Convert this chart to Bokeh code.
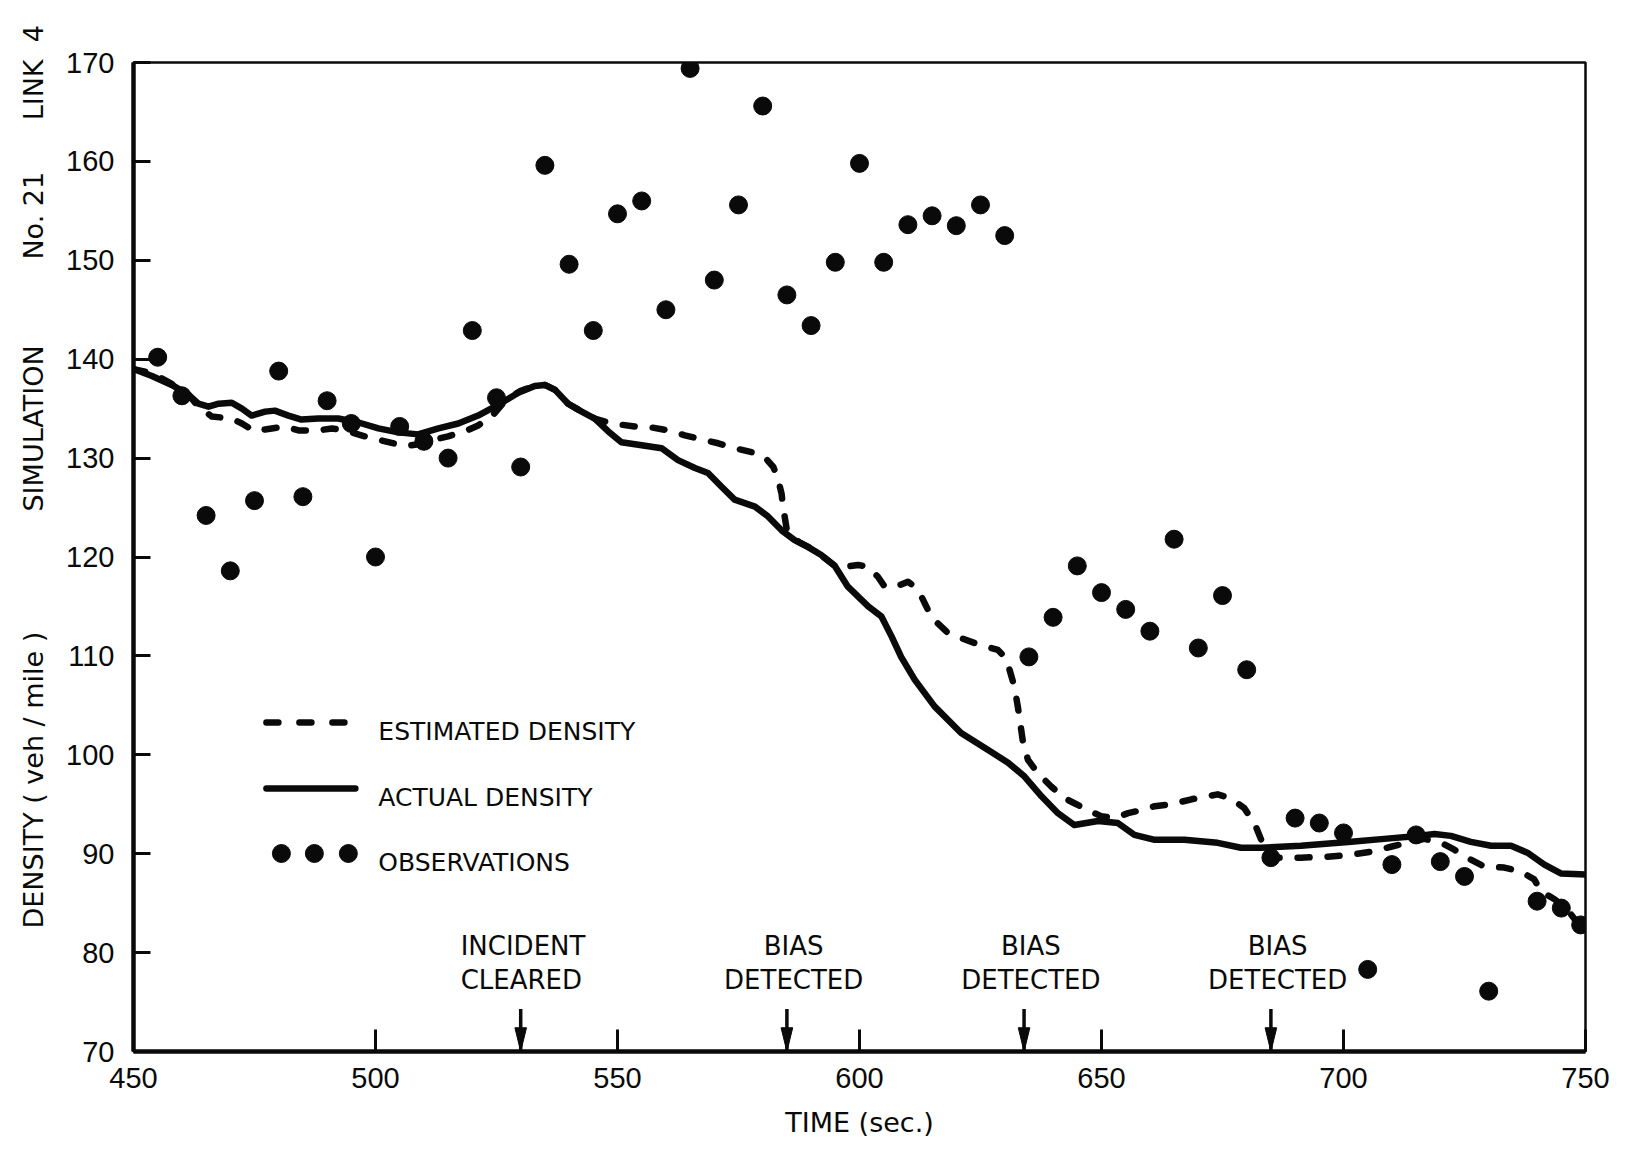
import math

from bokeh.embed import file_html
from bokeh.models import FixedTicker, Label, Range1d, Title
from bokeh.plotting import figure
from bokeh.resources import INLINE

# ---------------------------------------------------------------------------
# Data: simulation No. 21, link 4
# ---------------------------------------------------------------------------
actual_t = [450.0, 453.8, 457.9, 461.4, 463.4, 465.5, 467.6, 470.3, 472.4, 474.4,
            477.2, 479.2, 482.0, 484.7, 488.2, 492.3, 496.5, 500.6, 504.7, 508.8,
            513.0, 517.1, 521.2, 525.4, 529.5, 532.9, 535.0, 537.1, 539.8, 542.6,
            545.3, 548.1, 550.8, 555.0, 559.1, 562.5, 566.0, 568.7, 571.5, 574.2,
            578.4, 581.1, 583.9, 586.6, 589.4, 592.1, 594.9, 597.6, 601.8, 604.5,
            606.6, 608.6, 611.4, 615.5, 621.0, 626.5, 630.7, 634.1, 637.6, 641.0,
            644.4, 649.3, 653.4, 656.8, 661.0, 667.1, 674.0, 678.8, 683.0, 691.2,
            701.6, 708.4, 715.3, 718.8, 722.2, 726.3, 730.5, 734.6, 738.0, 741.5,
            744.9, 750.0]
actual_density = [139.0, 138.3, 137.4, 136.4, 135.5, 135.2, 135.5, 135.6, 135.0, 134.3,
                  134.7, 134.8, 134.3, 133.9, 134.0, 134.0, 133.6, 133.0, 132.6, 132.4,
                  133.0, 133.5, 134.3, 135.4, 136.6, 137.3, 137.4, 136.9, 135.5, 134.7,
                  134.0, 132.7, 131.6, 131.3, 131.0, 129.8, 129.0, 128.5, 127.1, 125.8,
                  125.1, 124.1, 122.7, 121.7, 121.0, 120.2, 119.1, 117.0, 115.0, 114.0,
                  112.0, 109.9, 107.6, 104.9, 102.2, 100.5, 99.2, 97.8, 95.8, 94.1,
                  92.9, 93.3, 93.1, 91.9, 91.4, 91.4, 91.1, 90.6, 90.6, 90.8,
                  91.2, 91.5, 91.8, 92.0, 91.8, 91.2, 90.8, 90.8, 90.1, 88.9,
                  88.0, 87.9]

estimated_t = [450.0, 453.8, 457.9, 461.4, 463.4, 466.2, 470.3, 472.4, 475.1, 477.2,
               481.3, 484.1, 488.2, 491.0, 493.7, 497.8, 502.0, 506.1, 508.8, 511.6,
               515.0, 518.5, 521.2, 524.0, 527.0, 530.0, 533.0, 535.0, 537.1, 539.8,
               542.6, 545.3, 548.8, 553.6, 557.0, 560.5, 563.9, 567.3, 570.8, 574.2,
               577.7, 580.4, 582.2, 583.2, 583.9, 584.2, 585.0, 587.5, 590.7, 594.9,
               596.9, 599.7, 601.8, 603.8, 605.2, 608.0, 610.0, 611.4, 612.8, 614.2,
               615.5, 618.3, 621.0, 623.8, 626.5, 628.6, 630.0, 631.0, 632.0, 632.7,
               633.3, 633.8, 634.8, 636.9, 639.6, 642.4, 644.4, 647.2, 649.9, 652.7,
               655.5, 658.2, 661.0, 664.4, 668.6, 674.0, 676.8, 679.5, 681.6, 683.0,
               684.0, 686.4, 691.2, 696.7, 701.6, 705.7, 709.8, 714.0, 716.7, 720.2,
               722.9, 726.3, 729.1, 733.2, 736.6, 739.4, 740.8, 743.6, 746.3, 749.0,
               750.0]
estimated_density = [139.0, 138.6, 137.5, 136.4, 135.2, 134.2, 134.0, 133.5, 132.7, 132.9,
                     133.2, 132.8, 132.8, 133.0, 132.8, 132.2, 131.7, 131.2, 131.4, 131.8,
                     132.2, 132.7, 133.3, 134.2, 135.9, 136.8, 137.3, 137.4, 136.9, 135.5,
                     134.7, 134.0, 133.5, 133.2, 133.1, 132.8, 132.3, 131.9, 131.5, 131.0,
                     130.6, 130.1, 129.1, 127.8, 126.4, 125.1, 122.7, 121.5, 120.7, 119.1,
                     119.0, 119.2, 119.0, 118.0, 117.0, 117.1, 117.5, 117.0, 116.0, 114.6,
                     113.6, 112.3, 111.8, 111.3, 110.9, 110.6, 109.9, 108.6, 106.9, 104.9,
                     102.9, 101.2, 99.5, 98.1, 96.8, 95.6, 95.1, 94.4, 93.8, 93.6,
                     94.1, 94.4, 94.8, 95.0, 95.5, 96.0, 95.6, 94.6, 93.1, 91.4,
                     89.9, 89.6, 89.6, 89.7, 89.9, 90.2, 90.7, 91.2, 91.5, 91.1,
                     90.4, 89.4, 88.7, 88.6, 88.2, 87.4, 86.2, 85.4, 84.3, 82.6,
                     82.3]

obs_t = [455, 460, 465, 470, 475, 480, 485, 490, 495, 500,
         505, 510, 515, 520, 525, 530, 535, 540, 545, 550,
         555, 560, 565, 570, 575, 580, 585, 590, 595, 600,
         605, 610, 615, 620, 625, 630, 635, 640, 645, 650,
         655, 660, 665, 670, 675, 680, 685, 690, 695, 700,
         705, 710, 715, 720, 725, 730, 740, 745, 749]
obs_density = [140.2, 136.3, 124.2, 118.6, 125.7, 138.8, 126.1, 135.8, 133.5, 120.0,
               133.2, 131.7, 130.0, 142.9, 136.1, 129.1, 159.6, 149.6, 142.9, 154.7,
               156.0, 145.0, 169.4, 148.0, 155.6, 165.6, 146.5, 143.4, 149.8, 159.8,
               149.8, 153.6, 154.5, 153.5, 155.6, 152.5, 109.9, 113.9, 119.1, 116.4,
               114.7, 112.5, 121.8, 110.8, 116.1, 108.6, 89.6, 93.6, 93.1, 92.1,
               78.3, 88.9, 91.9, 89.2, 87.7, 76.1, 85.2, 84.5, 82.8]

event_t = [530, 585, 634, 685]
event_top = ["INCIDENT", "BIAS", "BIAS", "BIAS"]
event_bottom = ["CLEARED", "DETECTED", "DETECTED", "DETECTED"]

x_ticks = [450, 500, 550, 600, 650, 700, 750]
y_ticks = [70, 80, 90, 100, 110, 120, 130, 140, 150, 160, 170]

# ---------------------------------------------------------------------------
# Layout helpers (canvas pixels -> data units) for the hand-placed annotations
# ---------------------------------------------------------------------------
W, H = 1626, 1152
LEFT, RIGHT, TOP, BOTTOM = 132, 41, 62, 101
X0, X1, Y0, Y1 = 450, 750, 70, 170
FRAME_W = W - LEFT - RIGHT
FRAME_H = H - TOP - BOTTOM


def px_x(px):
    return X0 + (px - LEFT) * (X1 - X0) / FRAME_W


def px_y(py):
    return Y1 - (py - TOP) * (Y1 - Y0) / FRAME_H


INK = "#0a0a0a"
TICK_FONT = "Liberation Sans"
TEXT_FONT = "DejaVu Sans"
NBSP = "\u00a0"
CURVE_W = 6.5

p = figure(width=W, height=H, x_range=Range1d(X0, X1), y_range=Range1d(Y0, Y1),
           output_backend="svg", toolbar_location=None,
           min_border_left=LEFT, min_border_right=RIGHT,
           min_border_top=TOP, min_border_bottom=BOTTOM)

p.background_fill_color = "white"
p.border_fill_color = "white"
p.outline_line_color = INK
p.outline_line_width = 2.5
p.grid.visible = False

for ax in (p.xaxis[0], p.yaxis[0]):
    ax.axis_line_color = INK
    ax.axis_line_width = 4.5
    ax.major_tick_line_color = INK
    ax.major_tick_line_width = 3
    ax.major_tick_out = 0
    ax.minor_tick_in = 0
    ax.minor_tick_out = 0
    ax.major_label_text_font = TICK_FONT
    ax.major_label_text_font_size = "29px"
    ax.major_label_text_color = INK

p.xaxis[0].ticker = FixedTicker(ticks=x_ticks)
p.xaxis[0].major_tick_in = 22
p.xaxis[0].major_label_standoff = 16
p.yaxis[0].ticker = FixedTicker(ticks=y_ticks)
p.yaxis[0].major_tick_in = 17
p.yaxis[0].major_label_standoff = 19

# Series
p.line(actual_t, actual_density, line_color=INK, line_width=CURVE_W,
       line_join="round", line_cap="round")
p.line(estimated_t, estimated_density, line_color=INK, line_width=CURVE_W,
       line_dash="12 18", line_join="round", line_cap="round")
p.scatter(obs_t, obs_density, marker="circle", size=18,
          fill_color=INK, line_color=INK)

# Event arrows on the time axis
p.segment(x0=event_t, y0=[74.3] * len(event_t), x1=event_t, y1=[Y0] * len(event_t),
          line_color=INK, line_width=3.5)
head_half = 1.2
p.patches(xs=[[t - head_half, t + head_half, t] for t in event_t],
          ys=[[72.4, 72.4, Y0] for _ in event_t],
          fill_color=INK, line_color=INK, line_width=1)

# Event captions
line1_y, line2_y = px_y(945), px_y(979)
for i, t in enumerate(event_t):
    if i == 0:
        x_txt, align = t - 12.4, "left"
    else:
        x_txt, align = t + 1.4, "center"
    for txt, yy in ((event_top[i], line1_y), (event_bottom[i], line2_y)):
        p.add_layout(Label(x=x_txt, y=yy, text=txt, text_align=align,
                           text_baseline="middle", text_font=TEXT_FONT,
                           text_font_size="26px", text_color=INK))

# Legend, drawn by hand inside the frame
leg_x0, leg_x1 = px_x(265), px_x(354)
p.line([leg_x0, leg_x1], [px_y(722)] * 2, line_color=INK, line_width=CURVE_W,
       line_dash="12 21", line_cap="round")
p.line([leg_x0, leg_x1], [px_y(788)] * 2, line_color=INK, line_width=CURVE_W,
       line_cap="round")
p.scatter([px_x(280), px_x(313), px_x(347)], [px_y(853)] * 3, marker="circle",
          size=18, fill_color=INK, line_color=INK)
for txt, py in (("ESTIMATED DENSITY", 731), ("ACTUAL DENSITY", 797), ("OBSERVATIONS", 862)):
    p.add_layout(Label(x=px_x(377), y=px_y(py), text=txt, text_align="left",
                       text_baseline="middle", text_font=TEXT_FONT,
                       text_font_size="25px", text_color=INK))

# Axis titles (side panels, so they sit outside the frame)
time_title = Title(text="TIME (sec.)", align="center", offset=-20, standoff=29,
                   text_font=TEXT_FONT, text_font_size="27px",
                   text_font_style="normal", text_color=INK)
p.add_layout(time_title, "below")

y_title_text = ("DENSITY ( veh / mile )" + NBSP * 14 + "SIMULATION" + NBSP * 10
                + "No. 21" + NBSP * 6 + "LINK" + NBSP * 2 + "4")
y_title = Title(text=y_title_text, align="left", offset=123, standoff=30,
                text_font=TEXT_FONT, text_font_size="27px",
                text_font_style="normal", text_color=INK)
p.add_layout(y_title, "left")

open("out.html", "w").write(file_html(p, INLINE))
